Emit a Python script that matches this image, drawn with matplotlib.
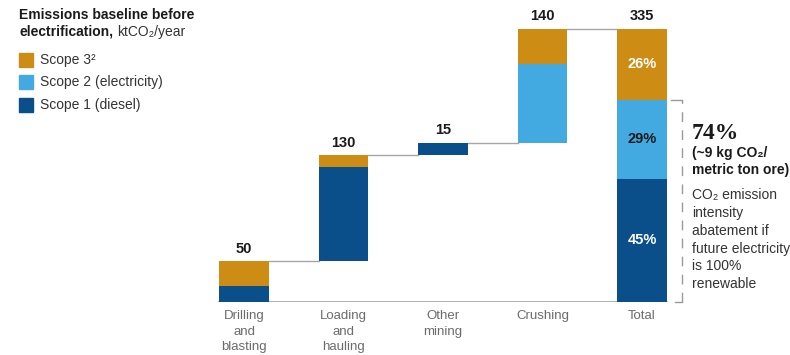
import numpy as np
import matplotlib.pyplot as plt
from matplotlib.patches import Rectangle

plt.rcParams['font.family'] = ['Liberation Sans', 'DejaVu Sans']

categories = ['Drilling\nand\nblasting', 'Loading\nand\nhauling', 'Other\nmining', 'Crushing', 'Total']
step_labels = ['50', '130', '15', '140', '335']
scope1 = [20, 116, 15, 0]    # diesel
scope2 = [0, 0, 0, 97]       # electricity
scope3 = [30, 14, 0, 43]
pct_labels = ['45%', '29%', '26%']

c_s1 = '#0a4f8a'
c_s2 = '#42aae1'
c_s3 = '#cd8c14'
grey_line = '#a6a6a6'

fig = plt.figure(figsize=(7.9, 3.55), dpi=100)
ax = fig.add_axes([194.25 / 790, 53 / 355, 497.5 / 790, 293.4 / 355])
ax.set_xlim(-0.5, 4.5)
ax.set_ylim(0, 360)
ax.axis('off')

w = 0.5
s1 = np.array(scope1)
s2 = np.array(scope2)
s3 = np.array(scope3)
steps = s1 + s2 + s3
starts = np.concatenate([[0], np.cumsum(steps)[:-1]])
total_s1, total_s2, total_s3 = s1.sum(), s2.sum(), s3.sum()
grand = steps.sum()

# waterfall steps
for i in range(len(steps)):
    b = starts[i]
    for val, col in ((s1[i], c_s1), (s2[i], c_s2), (s3[i], c_s3)):
        if val > 0:
            ax.bar(i, val, w, bottom=b, color=col, linewidth=0)
            b += val

# total bar
ti = len(steps)
ax.bar(ti, total_s1, w, color=c_s1, linewidth=0)
ax.bar(ti, total_s2, w, bottom=total_s1, color=c_s2, linewidth=0)
ax.bar(ti, total_s3, w, bottom=total_s1 + total_s2, color=c_s3, linewidth=0)

# connectors
tops = list(starts + steps) + [grand]
for i in range(len(tops) - 1):
    ax.plot([i + w / 2, i + 1 - w / 2], [tops[i], tops[i]], color=grey_line, lw=1, zorder=0)
ax.plot([-w / 2, ti + w / 2], [0, 0], color=grey_line, lw=1.2, zorder=0)

# value labels
for i, lab in enumerate(step_labels):
    ax.text(i, tops[i] + 7, lab, ha='center', va='bottom', fontsize=10.5, fontweight='bold', color='#1a1a1a')

# percentages inside total bar
pct_kw = dict(ha='center', va='center', fontsize=10.5, fontweight='bold')
ax.text(ti, total_s1 / 2, pct_labels[0], color='white', **pct_kw)
ax.text(ti, total_s1 + total_s2 / 2, pct_labels[1], color='#1a1a1a', **pct_kw)
ax.text(ti, total_s1 + total_s2 + total_s3 / 2, pct_labels[2], color='white', **pct_kw)

# category labels
for i, lab in enumerate(categories):
    ax.text(i, -10, lab, ha='center', va='top', fontsize=9.5, color='#6b6b6b', linespacing=1.38)

# bracket for scope 1 + 2
bx = ti + 0.40
top_b = total_s1 + total_s2
ax.plot([bx, bx], [0, top_b], color='#9a9a9a', lw=1, ls=(0, (7, 6)), clip_on=False)
ax.plot([bx - 0.11, bx], [top_b, top_b], color='#9a9a9a', lw=1, clip_on=False)
ax.plot([bx - 0.07, bx], [0, 0], color='#9a9a9a', lw=1, clip_on=False)

fig.text(692 / 790, 1 - 134 / 355, '74%', fontsize=17, fontweight='bold', family=['Liberation Serif'],
         va='center', ha='left', color='#1a1a1a')
fig.text(692 / 790, 1 - 146 / 355, '(~9 kg CO₂/\nmetric ton ore)', fontsize=10, fontweight='bold',
         va='top', ha='left', color='#1a1a1a', linespacing=1.3)
fig.text(692 / 790, 1 - 188 / 355, 'CO₂ emission\nintensity\nabatement if\nfuture electricity\nis 100%\nrenewable',
         fontsize=10, va='top', ha='left', color='#333333', linespacing=1.35)

# legend and title
title_kw = dict(fontsize=10, va='top', ha='left', linespacing=1.3)
fig.text(19 / 790, 1 - 8 / 355, 'Emissions baseline before', fontweight='bold', color='#1a1a1a', **title_kw)
t2 = fig.text(19 / 790, 1 - 25 / 355, 'electrification,', fontweight='bold', color='#1a1a1a', **title_kw)
fig.canvas.draw()
bb = t2.get_window_extent().transformed(fig.transFigure.inverted())
fig.text(bb.x1 + 4 / 790, 1 - 25 / 355, 'ktCO₂/year', color='#333333', **title_kw)

leg = [('Scope 3²', c_s3, 53), ('Scope 2 (electricity)', c_s2, 75), ('Scope 1 (diesel)', c_s1, 98)]
for txt, col, y in leg:
    fig.patches.append(Rectangle((19 / 790, 1 - (y + 14) / 355), 14 / 790, 14 / 355,
                                 transform=fig.transFigure, color=col, figure=fig))
    fig.text(40 / 790, 1 - (y + 7) / 355, txt, fontsize=10, va='center', ha='left', color='#333333')

fig.savefig('out.png', dpi=100)
